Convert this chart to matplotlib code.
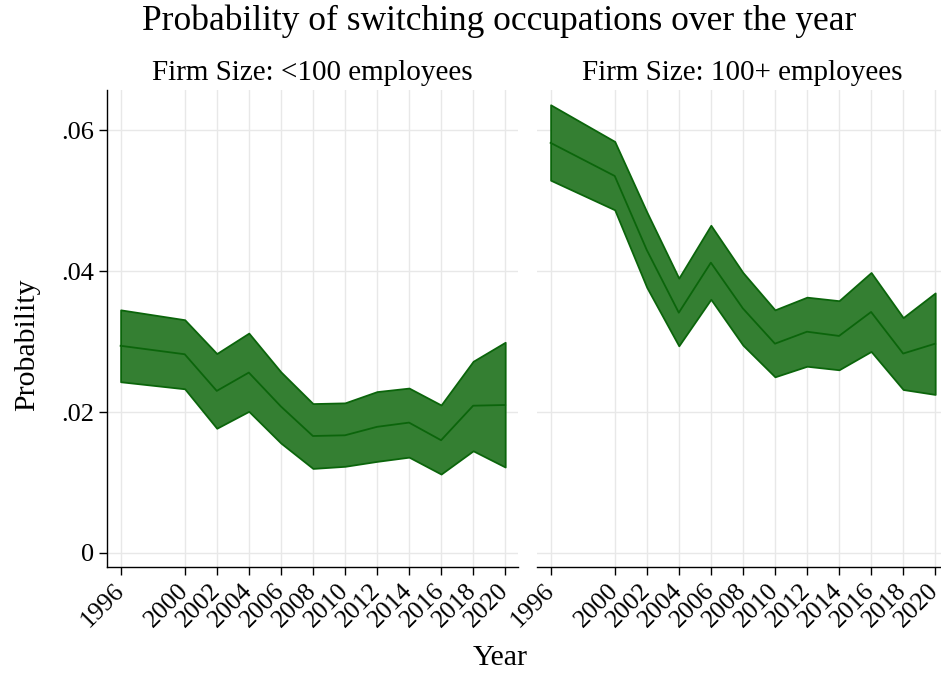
import numpy as np
import matplotlib.pyplot as plt

plt.rcParams["font.family"] = ["Liberation Serif", "DejaVu Serif"]

years = [1996, 2000, 2002, 2004, 2006, 2008, 2010, 2012, 2014, 2016, 2018, 2020]

# firm size < 100 employees
small_mean = [0.0294, 0.0282, 0.0230, 0.0256, 0.0208, 0.0166, 0.0167, 0.0179, 0.0185, 0.0160, 0.0209, 0.0210]
small_lo = [0.0243, 0.0233, 0.0177, 0.0201, 0.0156, 0.0120, 0.0123, 0.0130, 0.0136, 0.0112, 0.0145, 0.0122]
small_hi = [0.0345, 0.0331, 0.0283, 0.0312, 0.0257, 0.0212, 0.0213, 0.0229, 0.0234, 0.0210, 0.0272, 0.0299]

# firm size 100+ employees
large_mean = [0.0582, 0.0535, 0.0430, 0.0341, 0.0412, 0.0347, 0.0297, 0.0314, 0.0308, 0.0342, 0.0283, 0.0297]
large_lo = [0.0529, 0.0487, 0.0377, 0.0294, 0.0360, 0.0295, 0.0250, 0.0265, 0.0260, 0.0286, 0.0232, 0.0225]
large_hi = [0.0636, 0.0584, 0.0484, 0.0390, 0.0465, 0.0398, 0.0345, 0.0363, 0.0358, 0.0398, 0.0334, 0.0369]

panels = [
    ("Firm Size: <100 employees", small_mean, small_lo, small_hi),
    ("Firm Size: 100+ employees", large_mean, large_lo, large_hi),
]

yticks = [0, 0.02, 0.04, 0.06]
ytick_labels = ["0", ".02", ".04", ".06"]

fill_color = "#347f32"
edge_color = "#0b650b"
grid_color = "#e8e8e8"

fig = plt.figure(figsize=(9.41, 6.73), dpi=100)
W, H = 941, 673
ax_w, ax_h = 411, 477
lefts = [107, 537]
bottom = H - 567

for i, (title, mean, lo, hi) in enumerate(panels):
    ax = fig.add_axes([lefts[i] / W, bottom / H, ax_w / W, ax_h / H])
    ax.fill_between(years, lo, hi, facecolor=fill_color, edgecolor=edge_color,
                    linewidth=1.3, zorder=3)
    ax.plot(years, mean, color=edge_color, linewidth=1.3, zorder=4)

    ax.set_xlim(1995.15, 2020.8)
    ax.set_ylim(-0.00199, 0.0657)
    ax.set_xticks(years)
    ax.set_xticklabels([str(y) for y in years], rotation=45, ha="right",
                       va="center", rotation_mode="anchor", fontsize=18.5)
    ax.set_yticks(yticks)
    ax.grid(True, color=grid_color, linewidth=1.0, zorder=0)
    ax.set_axisbelow(True)
    ax.set_title(title, fontsize=21, pad=7)

    for side in ["top", "right"]:
        ax.spines[side].set_visible(False)
    ax.spines["bottom"].set_linewidth(1.0)
    ax.tick_params(axis="x", direction="out", length=6, width=1.0, pad=9)

    if i == 0:
        ax.set_yticklabels(ytick_labels, fontsize=19)
        ax.tick_params(axis="y", direction="out", length=6, width=1.0, pad=3)
        ax.spines["left"].set_linewidth(1.0)
    else:
        ax.spines["left"].set_visible(False)
        ax.tick_params(axis="y", length=0, labelleft=False)

fig.text(499 / W, 1 - 21 / H, "Probability of switching occupations over the year",
         ha="center", va="center", fontsize=25.5)
fig.text(27 / W, 1 - 345 / H, "Probability", rotation=90,
         ha="center", va="center", fontsize=21.5)
fig.text(500 / W, 1 - 658 / H, "Year", ha="center", va="center", fontsize=21.5)

fig.savefig("out.png", dpi=100)
